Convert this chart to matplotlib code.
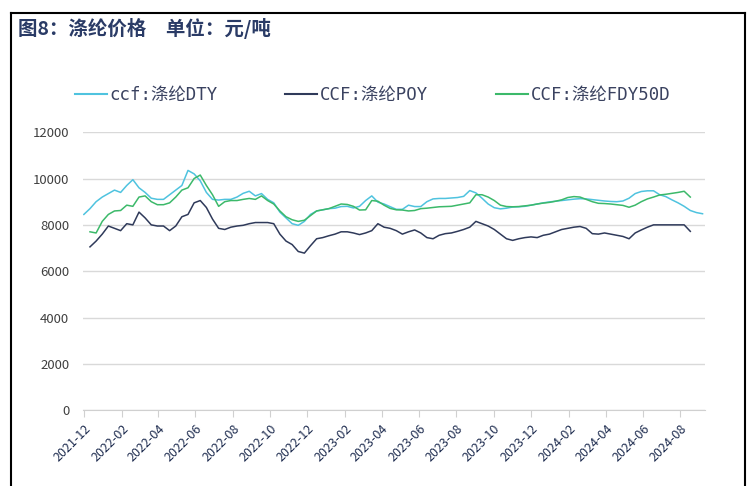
import numpy as np
import pandas as pd
import matplotlib
matplotlib.use('Agg')
from matplotlib import pyplot as plt
import matplotlib.dates as mdates
from matplotlib.lines import Line2D

plt.rcParams['font.family'] = ['Noto Sans CJK SC', 'DejaVu Sans']

nan = np.nan

# sampled every 10 days starting 2021-12-01
dates = pd.date_range('2021-12-01', periods=102, freq='10D')

dty = [8450, 8700, 9000, 9200, 9350, 9500, 9400, 9700, 9950, 9600,
       9400, 9150, 9100, 9100, 9300, 9500, 9700, 10350, 10200, 9900,
       9400, 9100, 9070, 9100, 9100, 9200, 9360, 9450, 9250, 9350,
       9100, 8950, 8550, 8300, 8050, 7980, 8150, 8450, 8600, 8650,
       8700, 8720, 8790, 8800, 8730, 8800, 9050, 9250, 8980, 8900,
       8785, 8670, 8670, 8850, 8790, 8790, 9000, 9120, 9140, 9140,
       9160, 9180, 9230, 9480, 9380, 9150, 8900, 8740, 8690, 8720,
       8770, 8780, 8800, 8850, 8900, 8950, 8990, 9020, 9050, 9080,
       9110, 9130, 9120, 9090, 9060, 9030, 9010, 9000, 9030, 9150,
       9350, 9440, 9470, 9470, 9300, 9220, 9080, 8950, 8800, 8620,
       8530, 8480]

poy = [nan, 7050, 7300, 7600, 7950, 7850, 7750, 8050, 8000, 8550,
       8300, 8000, 7950, 7950, 7750, 7950, 8350, 8450, 8950, 9050,
       8750, 8250, 7850, 7800, 7900, 7950, 7980, 8050, 8100, 8100,
       8100, 8050, 7600, 7300, 7150, 6850, 6780, 7100, 7400, 7450,
       7530, 7600, 7700, 7700, 7650, 7580, 7650, 7750, 8050, 7900,
       7850, 7750, 7600, 7700, 7780, 7650, 7450, 7400, 7550, 7620,
       7650, 7720, 7800, 7900, 8150, 8050, 7950, 7800, 7600, 7400,
       7330, 7400, 7450, 7480, 7450, 7550, 7600, 7700, 7800, 7850,
       7900, 7930, 7850, 7620, 7600, 7650, 7600, 7550, 7500, 7400,
       7650, 7780, 7900, 8000, 8000, 8000, 8000, 8000, 8000, 7720,
       nan, nan]

fdy = [nan, 7700, 7650, 8150, 8450, 8600, 8620, 8850, 8800, 9200,
       9250, 9000, 8870, 8870, 8950, 9200, 9500, 9600, 10000, 10150,
       9700, 9300, 8800, 9000, 9050, 9050, 9100, 9140, 9100, 9250,
       9050, 8900, 8600, 8350, 8220, 8150, 8200, 8400, 8600, 8650,
       8700, 8800, 8900, 8880, 8800, 8640, 8650, 9050, 9020, 8850,
       8710, 8650, 8640, 8600, 8620, 8700, 8720, 8750, 8780, 8790,
       8800, 8850, 8900, 8950, 9300, 9300, 9200, 9050, 8850, 8790,
       8780, 8790, 8820, 8850, 8900, 8940, 8970, 9020, 9080, 9180,
       9220, 9200, 9100, 9000, 8930, 8920, 8900, 8870, 8840, 8760,
       8850, 9000, 9120, 9200, 9290, 9320, 9360, 9400, 9450, 9200,
       nan, nan]

labels = ['ccf:涤纶DTY', 'CCF:涤纶POY', 'CCF:涤纶FDY50D']
colors = ['#4fc3df', '#2f3a5a', '#3cb96a']
title = '图8：涤纶价格\u3000单位：元/吨'

fig = plt.figure(figsize=(7.5, 4.86), dpi=100)
ax = fig.add_axes([0.111, 0.156, 0.829, 0.572])

for series, lab, c in zip([dty, poy, fdy], labels, colors):
    ax.plot(dates, series, color=c, lw=1.1, label=lab)

ax.set_ylim(0, 12000)
ax.set_yticks(range(0, 12001, 2000))
ax.set_xlim(pd.Timestamp('2021-11-30'), pd.Timestamp('2024-09-10'))
ax.xaxis.set_major_locator(mdates.MonthLocator(bymonth=[2, 4, 6, 8, 10, 12]))
ax.xaxis.set_major_formatter(mdates.DateFormatter('%Y-%m'))
ax.grid(axis='y', color='#d9d9d9', lw=1)
ax.set_axisbelow(True)
for s in ['top', 'right', 'left']:
    ax.spines[s].set_visible(False)
ax.spines['bottom'].set_color('#d0d0d0')
ax.tick_params(axis='y', length=0, labelsize=9.5, labelcolor='#404040', pad=10)
ax.tick_params(axis='x', length=5, color='#d0d0d0', labelsize=9, labelcolor='#1f2d50')
plt.setp(ax.get_xticklabels(), rotation=45, ha='right', rotation_mode='anchor')

leg = fig.legend(*ax.get_legend_handles_labels(), loc='center left',
                 bbox_to_anchor=(0.088, 0.804), ncol=3, frameon=False,
                 prop={'family': ['DejaVu Sans Mono', 'Noto Sans CJK SC'], 'size': 12.5},
                 handlelength=1.85, handletextpad=0.15, columnspacing=3.9,
                 borderpad=0, labelcolor='#3a4260')
for h in leg.get_lines():
    h.set_linewidth(1.5)

fig.text(0.024, 0.941, title, fontsize=14, fontweight='bold', color='#2a3b66',
         ha='left', va='center')

# frame round the figure
fig.add_artist(Line2D([0.014, 0.014], [0, 0.974], color='black', lw=1.5))
fig.add_artist(Line2D([0.014, 0.993], [0.974, 0.974], color='black', lw=1.5))
fig.add_artist(Line2D([0.993, 0.993], [0, 0.974], color='black', lw=1.5))

fig.savefig('out.png', dpi=100)
